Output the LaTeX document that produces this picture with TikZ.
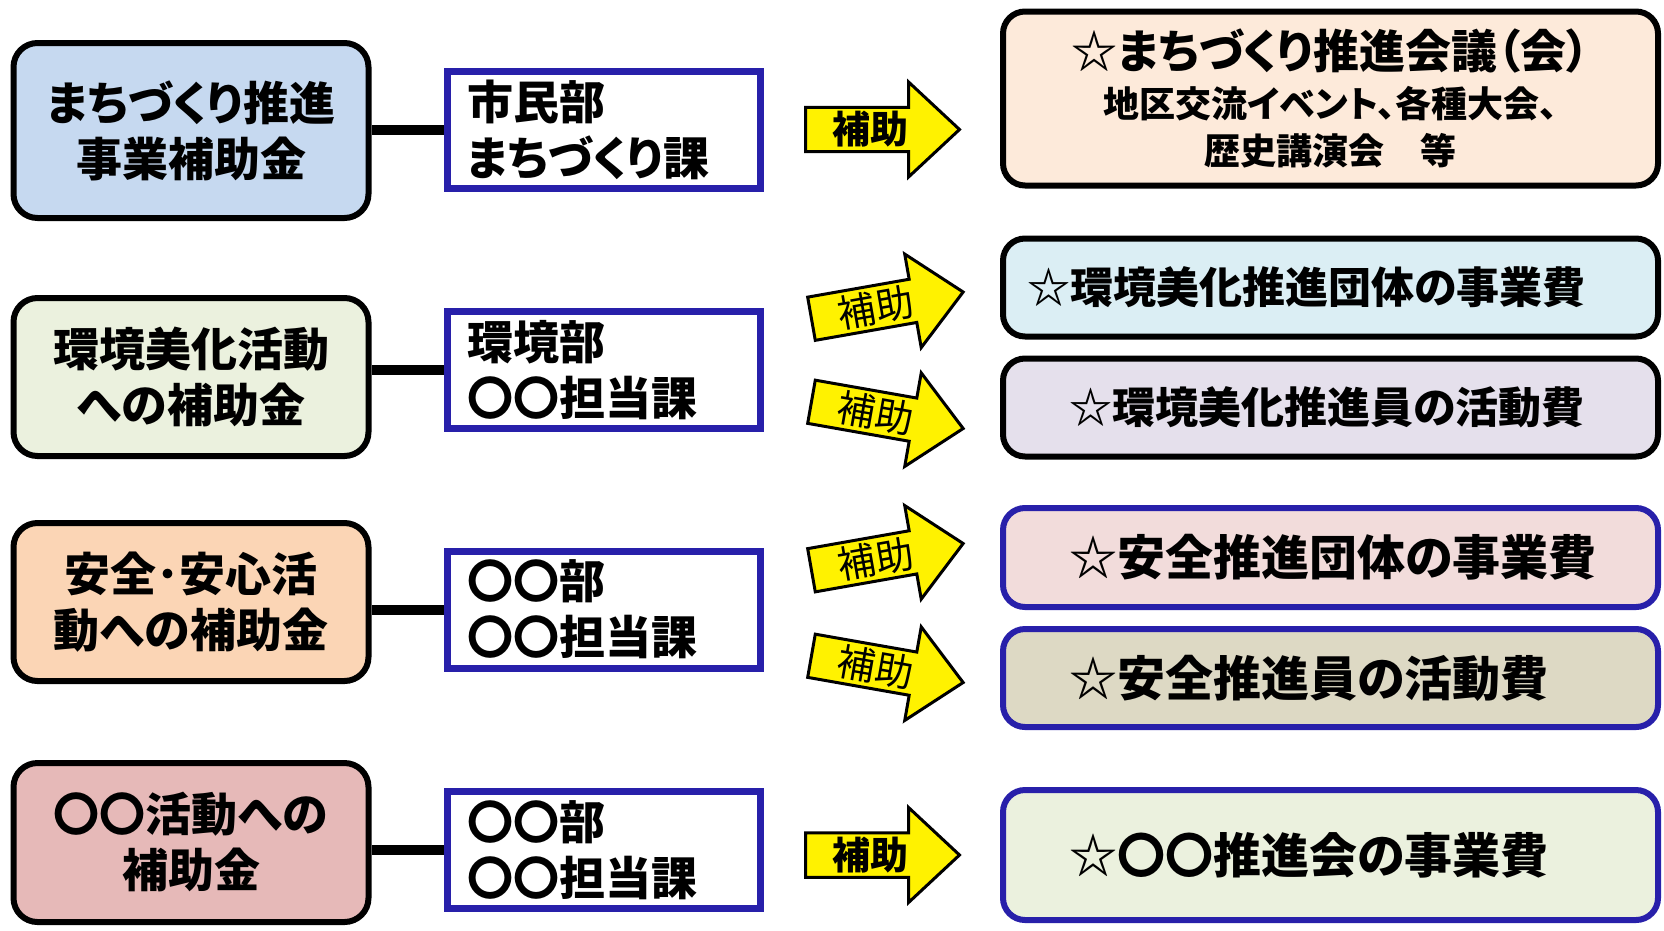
\documentclass[tikz,border=0pt]{standalone}
\usepackage{fontspec}
\setmainfont{Noto Sans CJK JP}[RawFeature=+palt]
\usetikzlibrary{shapes.arrows}
\definecolor{waku}{RGB}{40,32,170}
\definecolor{kinA}{HTML}{C6D9F0}
\definecolor{kinB}{HTML}{EBF1DE}
\definecolor{kinC}{HTML}{FBD5B5}
\definecolor{kinD}{HTML}{E6B9B8}
\definecolor{jigA}{HTML}{FDEADA}
\definecolor{jigB}{HTML}{DBEEF4}
\definecolor{jigC}{HTML}{E5E0EC}
\definecolor{jigD}{HTML}{F2DCDB}
\definecolor{jigE}{HTML}{DDD9C4}
\definecolor{jigF}{HTML}{EBF1DE}

\begin{document}
\begin{tikzpicture}[x=1pt, y=-1pt,
  kin/.style={draw, line width=6pt, rounded corners=24pt, minimum width=355pt,
    align=center, font=\fontsize{46}{56}\selectfont\bfseries},
  ka/.style={draw=waku, line width=7pt, fill=white, minimum width=313pt, minimum height=117pt,
    inner xsep=0pt, text width=274pt, align=left, font=\fontsize{46}{56}\selectfont\bfseries},
  jigyo/.style={draw, line width=6pt, rounded corners=22pt, minimum width=655pt,
    align=center, font=\fontsize{43}{50}\selectfont\bfseries},
  hidari/.style={text width=#1, align=left},
  hojo/.style={single arrow, draw, line width=3pt, fill=yellow, anchor=tail,
    minimum height=154pt, minimum width=95pt, single arrow head extend=24.5pt,
    single arrow tip angle=86, inner sep=2pt, font=\fontsize{38}{38}\selectfont\bfseries},
  sen/.style={line width=10pt}]

  \useasboundingbox (0,0) rectangle (1664,930);

  % Define subsidy boxes
  \node[kin, fill=kinA, minimum height=175pt] (k1) at (191,130.5) {まちづくり推進\\事業補助金};
  \node[kin, fill=kinB, minimum height=158pt] (k2) at (191,377) {環境美化活動\\への補助金};
  \node[kin, fill=kinC, minimum height=158pt] (k3) at (191,602) {安全･安心活\\動への補助金};
  \node[kin, fill=kinD, minimum height=159pt] (k4) at (191,842.5) {〇〇活動への\\補助金};

  % Define section boxes
  \node[ka] (b1) at (604,130) {市民部\\まちづくり課};
  \node[ka] (b2) at (604,370) {環境部\\〇〇担当課};
  \node[ka] (b3) at (604,609.5) {〇〇部\\〇〇担当課};
  \node[ka] (b4) at (604,850) {〇〇部\\〇〇担当課};

  % Define target boxes
  \node[jigyo, fill=jigA, minimum height=174pt, font=\fontsize{46}{53}\selectfont\bfseries] (j1) at (1330.5,98.5)
    {☆まちづくり推進会議（会）\\[-4.5pt]
     \fontsize{36}{45}\selectfont 地区交流イベント、各種大会、\\[-6pt]
     \fontsize{36}{45}\selectfont 歴史講演会　等};
  \node[jigyo, fill=jigB, minimum height=98pt, hidari=607pt] (j2) at (1330.5,287.5) {☆環境美化推進団体の事業費};
  \node[jigyo, fill=jigC, minimum height=98pt, hidari=522pt] (j3) at (1330.5,407.5) {☆環境美化推進員の活動費};
  \node[jigyo, draw=waku, fill=jigD, minimum height=99pt, hidari=522pt,
    font=\fontsize{48}{50}\selectfont\bfseries] (j4) at (1330.5,557.5) {☆安全推進団体の事業費};
  \node[jigyo, draw=waku, fill=jigE, minimum height=98pt, hidari=522pt,
    font=\fontsize{48}{50}\selectfont\bfseries] (j5) at (1330.5,678) {☆安全推進員の活動費};
  \node[jigyo, draw=waku, fill=jigF, minimum height=130pt, hidari=522pt,
    font=\fontsize{48}{50}\selectfont\bfseries] (j6) at (1330.5,855) {☆〇〇推進会の事業費};

  % Draw lines between boxes
  \draw[sen] (b1.west) -- (b1.west -| k1.east);
  \draw[sen] (b2.west) -- (b2.west -| k2.east);
  \draw[sen] (b3.west) -- (b3.west -| k3.east);
  \draw[sen] (b4.west) -- (b4.west -| k4.east);

  % Draw subsidy arrows
  \node[hojo] (h1) at (804,129.5) {補助};
  \node[hojo, rotate=10, font=\fontsize{38}{38}\selectfont] (h2) at (810,319) {補助};
  \node[hojo, rotate=-10, font=\fontsize{38}{38}\selectfont] (h3) at (810,401.5) {補助};
  \node[hojo, rotate=10, font=\fontsize{38}{38}\selectfont] (h4) at (810,570.5) {補助};
  \node[hojo, rotate=-10, font=\fontsize{38}{38}\selectfont] (h5) at (810,655.5) {補助};
  \node[hojo] (h6) at (804,855) {補助};
\end{tikzpicture}
\end{document}
